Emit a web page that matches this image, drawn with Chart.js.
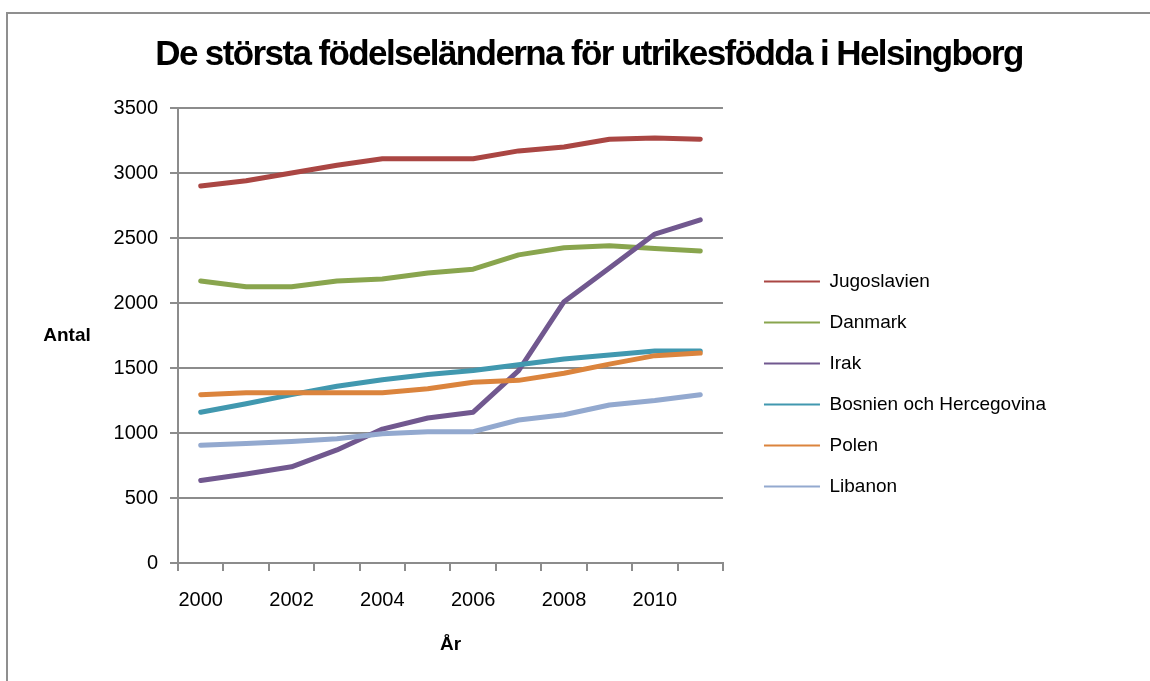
<!DOCTYPE html>
<html lang="sv">
<head>
<meta charset="utf-8">
<title>De största födelseländerna för utrikesfödda i Helsingborg</title>
<script src="https://cdn.jsdelivr.net/npm/chart.js@4.4.1/dist/chart.umd.min.js"></script>
<style>
  html, body { margin: 0; padding: 0; background: #fff; overflow: hidden; }
  .frame {
    position: absolute; left: 6px; top: 12px; width: 1300px; height: 800px;
    border-top: 2px solid #8f8f8f; border-left: 2px solid #8f8f8f;
  }
  canvas { position: absolute; left: 0; top: 0; }
</style>
</head>
<body>
<div class="frame"></div>
<canvas id="chart" width="1150" height="681"></canvas>
<script>
// Data
const years = ['2000', '2001', '2002', '2003', '2004', '2005', '2006', '2007', '2008', '2009', '2010', '2011'];
const countries = ['Jugoslavien', 'Danmark', 'Irak', 'Bosnien och Hercegovina', 'Polen', 'Libanon'];
const jugoslavien = [2900, 2940, 3000, 3060, 3110, 3110, 3110, 3170, 3200, 3260, 3270, 3260];
const danmark = [2170, 2125, 2125, 2170, 2185, 2230, 2260, 2370, 2425, 2440, 2420, 2400];
const irak = [635, 685, 740, 870, 1030, 1115, 1160, 1480, 2010, 2270, 2530, 2640];
const bosnien = [1160, 1225, 1295, 1360, 1410, 1450, 1480, 1525, 1570, 1600, 1630, 1630];
const polen = [1295, 1310, 1310, 1310, 1310, 1340, 1390, 1405, 1460, 1530, 1595, 1615];
const libanon = [905, 920, 935, 955, 995, 1010, 1010, 1100, 1140, 1215, 1250, 1295];
const colors = ['#AA4643', '#89A54E', '#71588F', '#4198AF', '#DB843D', '#93A9CF'];
const yMin = 0, yMax = 3500, yStep = 500;

const chartTitle = 'De största födelseländerna för utrikesfödda i Helsingborg';
const xAxisTitle = 'År';
const yAxisTitle = 'Antal';

const FONT = '"Liberation Sans", Arial, sans-serif';
const GRID = '#8c8c8c';

const series = [jugoslavien, danmark, irak, bosnien, polen, libanon];

// Excel style: condensed bold title, a bit right of the layout box centre
const tightTitle = {
  id: 'tightTitle',
  afterInit(chart) {
    const block = chart.titleBlock;
    if (!block) return;
    const draw = block.draw.bind(block);
    block.draw = function (area) {
      chart.ctx.save();
      chart.ctx.letterSpacing = '-1.6px';
      chart.ctx.translate(61, 1);
      draw(area);
      chart.ctx.restore();
    };
  }
};

// horizontal y-axis title on the left
const flatYTitle = {
  id: 'flatYTitle',
  afterDraw(chart) {
    const { ctx, chartArea } = chart;
    ctx.save();
    ctx.font = 'bold 19px ' + FONT;
    ctx.fillStyle = '#000';
    ctx.textAlign = 'center';
    ctx.textBaseline = 'middle';
    ctx.fillText(yAxisTitle, 67, (chartArea.top + chartArea.bottom) / 2);
    ctx.restore();
  }
};

new Chart(document.getElementById('chart'), {
  type: 'line',
  data: {
    labels: years,
    datasets: countries.map((name, i) => ({
      label: name,
      data: series[i],
      borderColor: colors[i],
      backgroundColor: colors[i],
      borderWidth: 5,
      borderCapStyle: 'round',
      borderJoinStyle: 'round',
      pointRadius: 0,
      tension: 0,
      order: countries.length - i
    }))
  },
  options: {
    responsive: false,
    animation: false,
    devicePixelRatio: 1,
    layout: { padding: { left: 0, right: 94, top: 0, bottom: 0 } },
    plugins: {
      title: {
        display: true,
        text: chartTitle,
        color: '#000',
        font: { family: FONT, size: 35, weight: 'bold' },
        padding: { top: 33, bottom: 33 }
      },
      legend: {
        position: 'right',
        maxWidth: 340,
        title: { display: true, text: '', font: { size: 10 }, padding: { top: 75, bottom: 0 } },
        labels: {
          usePointStyle: true,
          pointStyle: 'line',
          pointStyleWidth: 56,
          padding: 22,
          color: '#000',
          font: { family: FONT, size: 19 },
          sort: (a, b) => a.datasetIndex - b.datasetIndex,
          generateLabels(chart) {
            return Chart.defaults.plugins.legend.labels.generateLabels(chart).map(item => {
              item.lineWidth = 2;
              item.lineCap = 'butt';
              return item;
            });
          }
        }
      },
      tooltip: { enabled: false }
    },
    scales: {
      x: {
        offset: true,
        grid: { offset: true, drawOnChartArea: false, drawTicks: true, tickLength: 8, color: GRID, lineWidth: 2 },
        border: { color: GRID, width: 2 },
        ticks: {
          autoSkip: false,
          maxRotation: 0,
          padding: 17,
          color: '#000',
          font: { family: FONT, size: 20 },
          callback: function (value, index) { return index % 2 ? '' : this.getLabelForValue(value); }
        },
        title: {
          display: true,
          text: xAxisTitle,
          color: '#000',
          font: { family: FONT, size: 19, weight: 'bold' },
          padding: { top: 21, bottom: 25 }
        },
        afterFit(scale) { scale.height = 118; }
      },
      y: {
        min: yMin,
        max: yMax,
        grid: { color: GRID, lineWidth: 2, tickLength: 8 },
        border: { color: GRID, width: 2 },
        ticks: {
          stepSize: yStep,
          padding: 12,
          color: '#000',
          font: { family: FONT, size: 20 },
          callback: value => String(value)
        },
        afterFit(scale) { scale.width = 178; }
      },
      gap: {
        position: 'right',
        display: true,
        grid: { display: false },
        border: { display: false },
        ticks: { display: false },
        afterFit(scale) { scale.width = 19; }
      }
    }
  },
  plugins: [tightTitle, flatYTitle]
});
</script>
</body>
</html>
